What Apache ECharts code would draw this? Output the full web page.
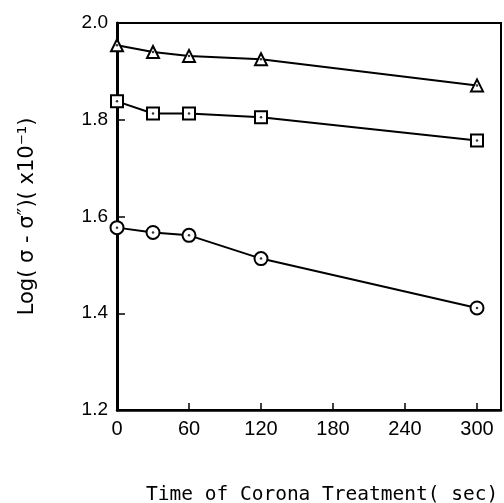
<!DOCTYPE html>
<html>
<head>
<meta charset="utf-8">
<script src="https://cdn.jsdelivr.net/npm/echarts@6/dist/echarts.min.js"></script>
<style>
  html, body { margin: 0; padding: 0; background: #fff; }
  #chart { width: 504px; height: 503px; }
</style>
</head>
<body>
<div id="chart"></div>
<script>
// treatment time (sec)
const times = [0, 30, 60, 120, 300]
// log values
const triangleVals = [1.954, 1.940, 1.932, 1.925, 1.871]
const squareVals = [1.838, 1.813, 1.813, 1.805, 1.757]
const circleVals = [1.577, 1.567, 1.561, 1.513, 1.411]

const xTitle = 'Time of Corona Treatment( sec)'
const yTitle = 'Log( σ - σ″)( x10⁻¹)'

const pairs = vals => times.map((t, i) => [t, vals[i]])

const lineSeries = (vals, symbol, size) => ({
  type: 'line',
  data: pairs(vals),
  symbol: symbol,
  symbolSize: size,
  showAllSymbol: true,
  lineStyle: { color: '#000', width: 2 },
  itemStyle: { color: '#fff', borderColor: '#000', borderWidth: 2 },
  z: 3
})

const dotSeries = vals => ({
  type: 'scatter',
  data: pairs(vals),
  symbol: 'circle',
  symbolSize: 2.5,
  itemStyle: { color: '#000' },
  z: 4
})

const chart = echarts.init(document.getElementById('chart'))
chart.setOption({
  animation: false,
  backgroundColor: '#fff',
  textStyle: { fontFamily: 'Liberation Sans', color: '#000' },
  title: {
    text: xTitle,
    left: 141,
    top: 480,
    textStyle: { fontFamily: 'DejaVu Sans Mono', fontSize: 19.5, fontWeight: 'normal', color: '#000' }
  },
  grid: {
    left: 117, top: 23, right: 3, bottom: 93,
    show: true, borderColor: '#000', borderWidth: 2
  },
  xAxis: {
    type: 'value',
    min: 0,
    max: 320,
    interval: 60,
    axisLine: { lineStyle: { color: '#000', width: 2.5 } },
    axisTick: { inside: true, length: 7, lineStyle: { color: '#000', width: 1.5 } },
    axisLabel: { showMaxLabel: false, fontSize: 20, color: '#000', margin: 9 },
    splitLine: { show: false }
  },
  yAxis: {
    type: 'value',
    min: 1.2,
    max: 2.0,
    interval: 0.2,
    name: yTitle,
    nameLocation: 'middle',
    nameGap: 79,
    nameTextStyle: { fontSize: 21, color: '#000', fontFamily: 'DejaVu Sans' },
    axisLine: { lineStyle: { color: '#000', width: 3 } },
    axisTick: { inside: true, length: 8, lineStyle: { color: '#000', width: 1.5 } },
    axisLabel: { fontSize: 19, color: '#000', margin: 9, formatter: v => v.toFixed(1) },
    splitLine: { show: false }
  },
  series: [
    lineSeries(triangleVals, 'triangle', 12),
    lineSeries(squareVals, 'rect', 12),
    lineSeries(circleVals, 'circle', 13),
    dotSeries(triangleVals),
    dotSeries(squareVals),
    dotSeries(circleVals)
  ]
})
</script>
</body>
</html>
